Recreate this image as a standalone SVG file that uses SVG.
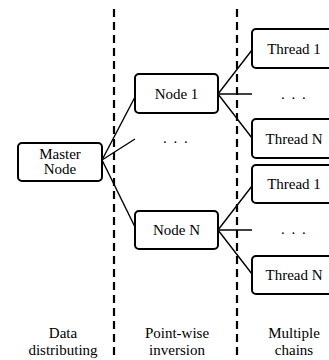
<svg xmlns="http://www.w3.org/2000/svg" width="329" height="360" viewBox="0 0 329 360">
<style>
.box{fill:#fff;stroke:#000;stroke-width:2}
.t{font-family:"Liberation Serif","Times New Roman",serif;font-size:15px;fill:#000;text-anchor:middle}
.dots{letter-spacing:1.5px}
.c{stroke:#000;stroke-width:1.4;fill:none}
.d{stroke:#000;stroke-width:2.2;stroke-dasharray:8 5;fill:none}
</style>
<rect width="329" height="360" fill="#fff"/>
<g id="dividers">
<line class="d" x1="114" y1="9" x2="114" y2="360"/>
<line class="d" x1="237" y1="9" x2="237" y2="360"/>
</g>
<g id="connectors">
<line class="c" x1="102" y1="160" x2="135" y2="97"/>
<line class="c" x1="102" y1="160" x2="135" y2="139"/>
<line class="c" x1="102" y1="160" x2="135" y2="227"/>
<line class="c" x1="218" y1="94" x2="252" y2="50"/>
<line class="c" x1="218" y1="94" x2="252" y2="94"/>
<line class="c" x1="218" y1="94" x2="252" y2="138"/>
<line class="c" x1="218" y1="230" x2="252" y2="186"/>
<line class="c" x1="218" y1="230" x2="252" y2="230"/>
<line class="c" x1="218" y1="230" x2="252" y2="274"/>
</g>
<g id="master">
<rect class="box" x="18" y="143" width="84" height="38" rx="4"/>
<text class="t" x="60" y="159">Master</text>
<text class="t" x="60" y="174">Node</text>
</g>
<g id="node1">
<rect class="box" x="135" y="74" width="83" height="39" rx="4"/>
<text class="t" x="176.5" y="99">Node 1</text>
</g>
<text class="t dots" x="176" y="143">. . .</text>
<g id="nodeN">
<rect class="box" x="135" y="211" width="83" height="38" rx="4"/>
<text class="t" x="176.5" y="235">Node N</text>
</g>
<g id="thread1a">
<rect class="box" x="252" y="29" width="84" height="39" rx="4"/>
<text class="t" x="294" y="53.5">Thread 1</text>
</g>
<text class="t dots" x="294" y="99">. . .</text>
<g id="threadNa">
<rect class="box" x="252" y="119" width="84" height="39" rx="4"/>
<text class="t" x="294" y="143.5">Thread N</text>
</g>
<g id="thread1b">
<rect class="box" x="252" y="165" width="84" height="38" rx="4"/>
<text class="t" x="294" y="189">Thread 1</text>
</g>
<text class="t dots" x="294" y="234">. . .</text>
<g id="threadNb">
<rect class="box" x="252" y="256" width="84" height="38" rx="4"/>
<text class="t" x="294" y="280">Thread N</text>
</g>
<g id="labels">
<text class="t" x="63" y="338">Data</text>
<text class="t" x="63" y="355">distributing</text>
<text class="t" x="177" y="338">Point-wise</text>
<text class="t" x="177" y="355">inversion</text>
<text class="t" x="294" y="338">Multiple</text>
<text class="t" x="294" y="355">chains</text>
</g>
</svg>
